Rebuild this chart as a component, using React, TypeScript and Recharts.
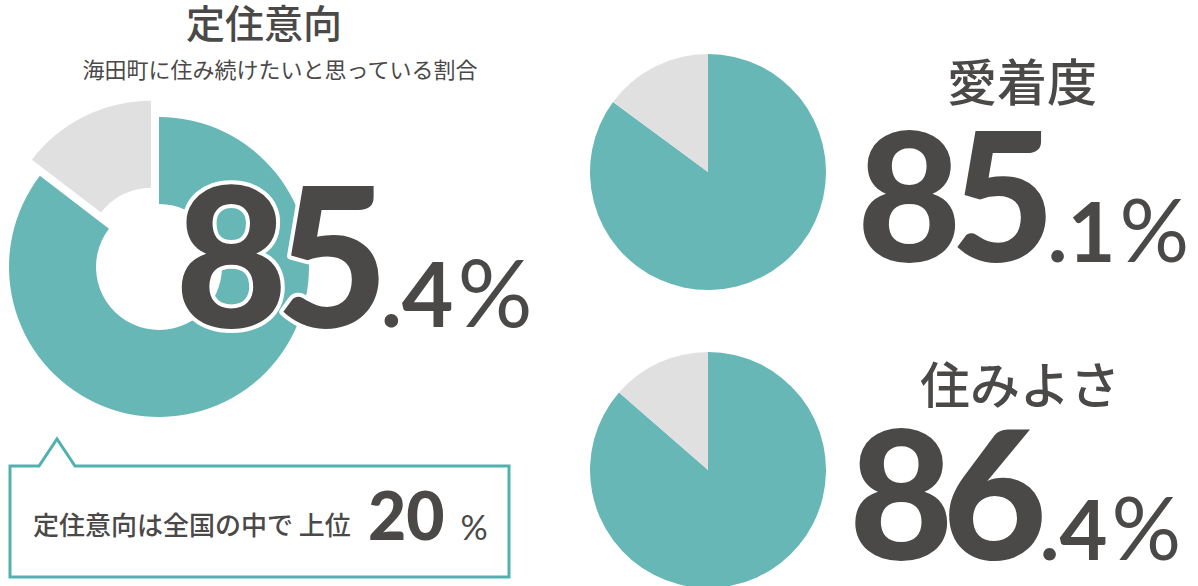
import React from 'react'
import { PieChart, Pie, Cell } from 'recharts'

// values
const titles = ['定住意向', '愛着度', '住みよさ']
const subtitle = '海田町に住み続けたいと思っている割合'
const shares = [85.4, 85.1, 86.4]
const others = [14.6, 14.9, 13.6]
const rankText = '定住意向は全国の中で 上位'
const rankValue = 20

const TEAL = '#67b7b6'
const GRAY = '#e0e0e0'
const INK = '#4a4948'
const FRAME = '#52b1b0'
const NUM_FONT = 'Lato, "Noto Sans", sans-serif'
const JP_FONT = '"Noto Sans CJK JP", sans-serif'

const EXPLODE = 18

function sliceData(i: number) {
  return [
    { name: titles[i], value: shares[i] },
    { name: 'その他', value: others[i] },
  ]
}

function splitValue(v: number) {
  const [int, dec] = v.toFixed(1).split('.')
  return { int, dec: '.' + dec }
}

function BigNumber({ x, y, value, size, outline }: { x: number; y: number; value: number; size: number; outline?: boolean }) {
  const { int, dec } = splitValue(value)
  const small = size * 0.46
  const strokeProps = outline
    ? { stroke: '#fff', strokeWidth: 8, strokeLinejoin: 'round' as const, paintOrder: 'stroke' }
    : {}
  return (
    <text x={x} y={y} fill={INK} fontFamily={NUM_FONT} {...strokeProps}>
      <tspan fontSize={size} fontWeight={900} letterSpacing={-size * 0.06}>{int}</tspan>
      <tspan fontSize={small} fontWeight={700} dx={size * 0.02}>{dec}</tspan>
      <tspan fontSize={small * 1.05} fontWeight={400} dx={4}>%</tspan>
    </text>
  )
}

function Donut() {
  const data = sliceData(0)
  const total = shares[0] + others[0]
  // middle of the grey slice, clockwise from 12 o'clock
  const mid = 90 - ((shares[0] + others[0] / 2) / total) * 360
  const rad = (mid * Math.PI) / 180
  const dx = EXPLODE * Math.cos(rad)
  const dy = -EXPLODE * Math.sin(rad)
  const cx = 159
  const cy = 167
  return (
    <PieChart width={330} height={330} margin={{ top: 0, right: 0, bottom: 0, left: 0 }}>
      <Pie
        data={data}
        dataKey="value"
        cx={cx}
        cy={cy}
        innerRadius={63}
        outerRadius={150}
        startAngle={90}
        endAngle={-270}
        stroke="none"
        isAnimationActive={false}
      >
        <Cell fill={TEAL} />
        <Cell fill="transparent" />
      </Pie>
      <Pie
        data={data}
        dataKey="value"
        cx={cx + dx}
        cy={cy + dy}
        innerRadius={63}
        outerRadius={150}
        startAngle={90}
        endAngle={-270}
        stroke="none"
        isAnimationActive={false}
      >
        <Cell fill="transparent" />
        <Cell fill={GRAY} />
      </Pie>
    </PieChart>
  )
}

function SmallPie({ index }: { index: number }) {
  return (
    <PieChart width={250} height={250} margin={{ top: 0, right: 0, bottom: 0, left: 0 }}>
      <Pie
        data={sliceData(index)}
        dataKey="value"
        cx={125}
        cy={125}
        outerRadius={118}
        startAngle={90}
        endAngle={-270}
        stroke="none"
        isAnimationActive={false}
      >
        <Cell fill={TEAL} />
        <Cell fill={GRAY} />
      </Pie>
    </PieChart>
  )
}

export default function App() {
  return (
    <div style={{ position: 'fixed', left: 0, top: 0, width: 1198, height: 586, overflow: 'hidden', background: '#fff' }}>
      <div style={{ position: 'absolute', left: 0, top: 100 }}>
        <Donut />
      </div>
      <div style={{ position: 'absolute', left: 583, top: 47 }}>
        <SmallPie index={1} />
      </div>
      <div style={{ position: 'absolute', left: 583, top: 345 }}>
        <SmallPie index={2} />
      </div>
      <svg width={1198} height={586} style={{ position: 'absolute', left: 0, top: 0, pointerEvents: 'none' }}>
        <text x={264} y={38} textAnchor="middle" fill={INK} fontFamily={JP_FONT} fontSize={39} fontWeight={500}>
          {titles[0]}
        </text>
        <text x={280} y={78} textAnchor="middle" fill={INK} fontFamily={JP_FONT} fontSize={22}>
          {subtitle}
        </text>
        <BigNumber x={175} y={327} value={shares[0]} size={194} outline />

        <path d="M10,466 H39 L57,439 L75,466 H509 V577 H10 Z" fill="#fff" stroke={FRAME} strokeWidth={3} />
        <text x={33} y={535} fill={INK} fontFamily={JP_FONT} fontSize={26} fontWeight={500}>
          {rankText}
        </text>
        <text x={368} y={540} fill={INK} fontFamily={NUM_FONT}>
          <tspan fontSize={66} fontWeight={900}>{rankValue}</tspan>
          <tspan fontSize={34} fontWeight={400} dx={16}>%</tspan>
        </text>

        <text x={1022} y={101} textAnchor="middle" fill={INK} fontFamily={JP_FONT} fontSize={50} fontWeight={500}>
          {titles[1]}
        </text>
        <BigNumber x={857} y={262} value={shares[1]} size={180} />

        <text x={1020} y={404} textAnchor="middle" fill={INK} fontFamily={JP_FONT} fontSize={50} fontWeight={500}>
          {titles[2]}
        </text>
        <BigNumber x={849} y={560} value={shares[2]} size={180} />
      </svg>
    </div>
  )
}
